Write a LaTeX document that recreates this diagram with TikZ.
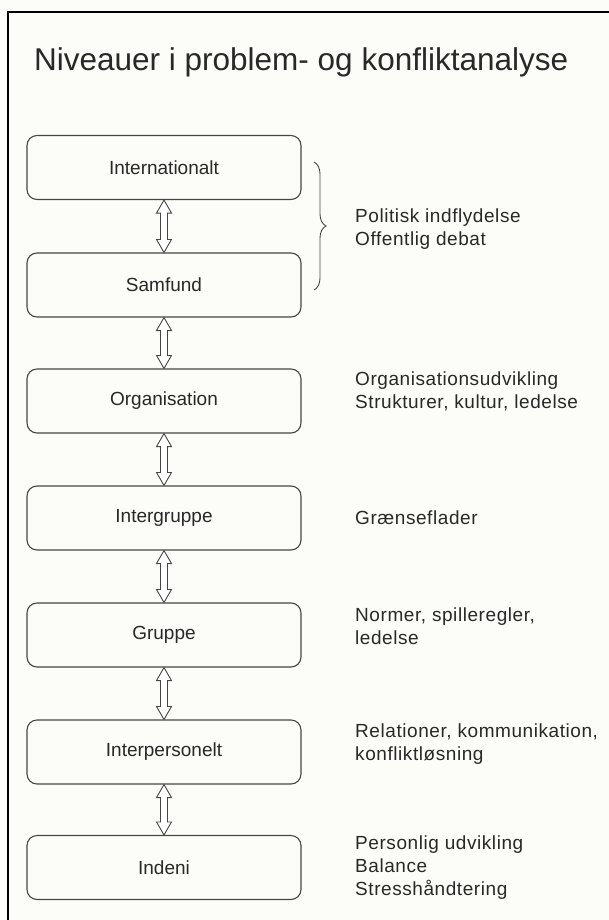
\documentclass[tikz,border=0pt]{standalone}
\usepackage{fontspec}
\setmainfont{Liberation Sans}
\usetikzlibrary{calc,decorations.pathreplacing}
\definecolor{paper}{RGB}{252,252,248}
\definecolor{ink}{RGB}{40,40,40}
\definecolor{boxline}{RGB}{70,70,70}
\tikzset{
  level/.style={draw=boxline, line width=1.1pt, rounded corners=10pt, minimum width=274pt, minimum height=64pt, text=ink, font=\fontsize{19}{23}\selectfont, inner sep=0pt},
  note/.style={anchor=base west, align=left, text=ink, font=\fontsize{19}{23}\selectfont\addfontfeature{LetterSpace=3}, inner sep=0pt},
  arr/.style={draw=boxline, line width=0.9pt, fill=white, line join=miter},
  frame/.style={line width=2pt, draw=black}
}
\newcommand{\dbarr}[2]{\path[arr] let \p1=(#1.south), \p2=(#2.north) in
  (\x1,\y1) -- (\x1+7.5pt,\y1-13pt) -- (\x1+3.5pt,\y1-13pt) -- (\x1+3.5pt,\y2+13pt) -- (\x1+7.5pt,\y2+13pt) -- (\x1,\y2)
  -- (\x1-7.5pt,\y2+13pt) -- (\x1-3.5pt,\y2+13pt) -- (\x1-3.5pt,\y1-13pt) -- (\x1-7.5pt,\y1-13pt) -- cycle;}
\begin{document}
\begin{tikzpicture}[x=1pt,y=-1pt]
\fill[paper] (0,0) rectangle (609,920);
\useasboundingbox (0,0) rectangle (609,920);
\draw[frame] (7.5,920) -- (7.5,12.5) -- (609,12.5);
\node[anchor=base west, inner sep=0pt, text=ink, font=\fontsize{31.5}{38}\selectfont] (title) at (34,71) {Niveauer i problem- og konfliktanalyse};
\node[level] (n1) at (164,167.5) {Internationalt};
\node[level] (n2) at (164,285) {Samfund};
\node[level] (n3) at (164,401) {Organisation};
\node[level] (n4) at (164,518) {Intergruppe};
\node[level] (n5) at (164,635) {Gruppe};
\node[level] (n6) at (164,752) {Interpersonelt};
\node[level] (n7) at (164,867.5) {Indeni};
\dbarr{n1}{n2}
\dbarr{n2}{n3}
\dbarr{n3}{n4}
\dbarr{n4}{n5}
\dbarr{n5}{n6}
\dbarr{n6}{n7}
\coordinate (bt) at (314,162);
\coordinate (bb) at (314,290);
\draw[boxline, line width=0.9pt, decorate, decoration={brace, amplitude=12pt}] (bt) -- (bb);
\node[note] (t1) at (355,245) {Politisk indflydelse\\Offentlig debat};
\node[note] (t3) at (355,408) {Organisationsudvikling\\Strukturer, kultur, ledelse};
\node[note] (t4) at (355,524) {Grænseflader};
\node[note] (t5) at (355,644) {Normer, spilleregler,\\ledelse};
\node[note] (t6) at (355,760) {Relationer, kommunikation,\\konfliktløsning};
\node[note] (t7) at (355,895) {Personlig udvikling\\Balance\\Stresshåndtering};
\end{tikzpicture}
\end{document}
